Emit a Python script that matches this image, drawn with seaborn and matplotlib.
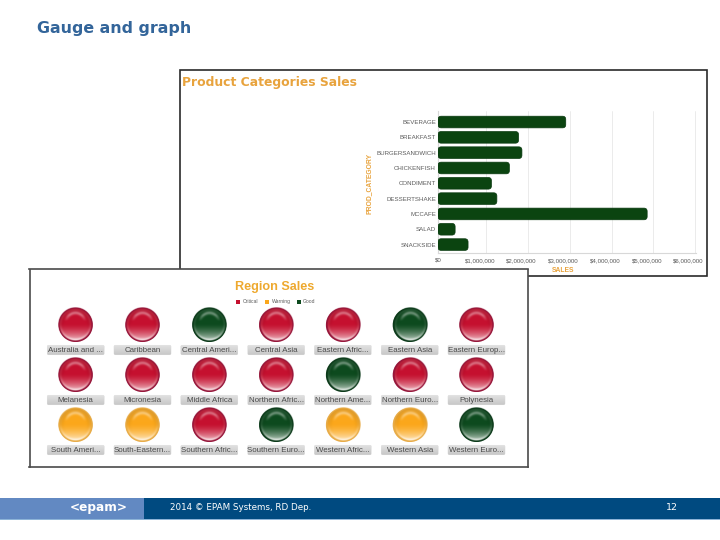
import numpy as np
import pandas as pd
import matplotlib
matplotlib.use("Agg")
import matplotlib.pyplot as plt
from matplotlib.patches import Rectangle, FancyBboxPatch
import seaborn as sns

categories = ["BEVERAGE", "BREAKFAST", "BURGERSANDWICH", "CHICKENFISH", "CONDIMENT",
              "DESSERTSHAKE", "MCCAFE", "SALAD", "SNACKSIDE"]
sales_m = [3.06, 1.93, 2.01, 1.71, 1.28, 1.41, 5.01, 0.41, 0.72]
sales_ticks = [0, 1, 2, 3, 4, 5, 6]
sales_labels = ["$0", "$1,000,000", "$2,000,000", "$3,000,000", "$4,000,000", "$5,000,000", "$6,000,000"]

regions = ["Australia and ...", "Caribbean", "Central Ameri...", "Central Asia", "Eastern Afric...", "Eastern Asia", "Eastern Europ...",
           "Melanesia", "Micronesia", "Middle Africa", "Northern Afric...", "Northern Ame...", "Northern Euro...", "Polynesia",
           "South Ameri...", "South-Eastern...", "Southern Afric...", "Southern Euro...", "Western Afric...", "Western Asia", "Western Euro..."]
status = ["Critical", "Critical", "Good", "Critical", "Critical", "Good", "Critical",
          "Critical", "Critical", "Critical", "Critical", "Good", "Critical", "Critical",
          "Warning", "Warning", "Critical", "Good", "Warning", "Warning", "Good"]
status_names = ["Critical", "Warning", "Good"]
status_colors = ["#c5102f", "#fba71b", "#0d4a1e"]
rim_colors = ["#96163a", "#e8ac48", "#0c3a1a"]

ORANGE = "#e8a33d"
TXT = "#5a5a5a"
W, H = 720, 540
fig = plt.figure(figsize=(7.2, 5.4), dpi=100, facecolor="white")

def px_axes(l, t, r, b, z):
    return fig.add_axes([l / W, 1 - b / H, (r - l) / W, (b - t) / H], zorder=z)

# slide overlay in pixel coordinates
bg = px_axes(0, 0, W, H, 0)
bg.set_xlim(0, W); bg.set_ylim(H, 0); bg.axis("off")
bg.add_patch(Rectangle((179.5, 69.5), 527.5, 206.5, fc="white", ec="#2a2a2a", lw=1.2))
bg.add_patch(Rectangle((0, 498), 144, 21, fc="#6289c2", ec="none"))
bg.add_patch(Rectangle((144, 498), 576, 21, fc="#004a80", ec="none"))
bg.add_patch(Rectangle((0, 519), 720, 0.8, fc="#8db4d8", ec="none"))
bg.text(37, 28, "Gauge and graph", color="#33659a", fontsize=11.4, fontweight="bold",
        family="DejaVu Sans", va="center", ha="left")
bg.text(182, 82.5, "Product Categories Sales", color=ORANGE, fontsize=8.95, fontweight="bold",
        family="DejaVu Sans", va="center", ha="left")
bg.text(369, 183, "PROD_CATEGORY", color=ORANGE, fontsize=4.9, rotation=90, fontweight="bold",
        family="Liberation Sans", va="center", ha="center")
bg.text(563, 271, "SALES", color=ORANGE, fontsize=4.9, fontweight="bold",
        family="Liberation Sans", va="center", ha="center")
bg.text(99, 507.5, "<epam>", color="white", fontsize=8.7, fontweight="bold",
        family="DejaVu Sans", va="center", ha="center")
bg.text(170, 508, "2014 © EPAM Systems, RD Dep.", color="white", fontsize=6.3,
        family="DejaVu Sans", va="center", ha="left")
bg.text(672, 507, "12", color="white", fontsize=6.8, family="DejaVu Sans", va="center", ha="center")

# bar chart
sns.set_style("white")
ax = px_axes(438, 111, 696, 253, 1)
df = pd.DataFrame({"cat": categories, "sales": sales_m})
sns.barplot(data=df, x="sales", y="cat", order=categories, orient="h", color="#0c4612",
            saturation=1, width=0.76, ax=ax, zorder=3)
ax.set_xlim(0, 6.18); ax.set_ylim(8.55, -0.72)
px_x = 258 / 6.18; px_y = 142 / 9.27
for p in list(ax.patches):
    x, y, w, h = p.get_x(), p.get_y(), p.get_width(), p.get_height()
    p.remove()
    ax.add_patch(FancyBboxPatch((x, y), w, h,
                 boxstyle=f"round,pad=0,rounding_size={3.2 / px_x}",
                 mutation_aspect=px_x / px_y, fc="#0b4410", ec="#0a3a10", lw=0.5, zorder=3))
ax.set_xticks(sales_ticks, sales_labels)
ax.set_yticks(range(len(categories)), categories)
ax.tick_params(axis="both", length=0, labelsize=4.4, labelcolor=TXT, pad=1.5)
ax.tick_params(axis="x", pad=3.5)
for lab in ax.get_xticklabels() + ax.get_yticklabels():
    lab.set_family("Liberation Sans")
for t in sales_ticks[1:]:
    ax.axvline(t + 0.16, color="#e8e8e8", lw=0.6, zorder=1)
ax.set_xlabel(""); ax.set_ylabel("")
for s in ("top", "right"):
    ax.spines[s].set_visible(False)
for s in ("left", "bottom"):
    ax.spines[s].set_color("#d8d8d8"); ax.spines[s].set_linewidth(0.8)
ax.patch.set_alpha(0)

# gauge panel: column / row data space
L, T, R, B = 29.5, 269.5, 528, 467
gx = px_axes(L, T, R, B, 2)
col_px, row_px, x0, y0 = 66.8, 50.0, 75.7, 325.0
gx.set_xlim((L - x0) / col_px, (R - x0) / col_px)
gx.set_ylim((B - y0) / row_px, (T - y0) / row_px)
gx.set_xticks([]); gx.set_yticks([])
for s in gx.spines.values():
    s.set_color("#4a4a4a"); s.set_linewidth(1.2)

n_cols = 7
g = pd.DataFrame({"region": regions, "status": status})
g["col"] = [i % n_cols for i in range(len(regions))]
g["row"] = [i // n_cols for i in range(len(regions))]
xlim, ylim = gx.get_xlim(), gx.get_ylim()
sns.scatterplot(data=g, x="col", y="row", hue="status", hue_order=status_names,
                palette=dict(zip(status_names, rim_colors)), s=600, linewidth=0,
                legend=False, ax=gx, zorder=2)
gx.set_xlabel(""); gx.set_ylabel("")

def ball(color, rim):
    n = 140
    v, u = np.mgrid[1:-1:n * 1j, -1:1:n * 1j]
    r = np.hypot(u, v)
    base = np.array(matplotlib.colors.to_rgb(color))
    rimc = np.array(matplotlib.colors.to_rgb(rim))
    img = np.zeros((n, n, 4))
    # soft glow in the lower half
    lower = np.clip((-v + 0.05) / 0.95, 0, 1) ** 1.5 * 0.7
    # faint pale ring just inside the rim
    ring = np.exp(-((r - 0.86) / 0.07) ** 2) * (0.08 + 0.14 * np.clip(-v, 0, 1))
    # thin crescent across the top
    d = np.hypot(u / 0.9, v - 0.05)
    arc = np.exp(-((d - 0.62) / 0.1) ** 2) * np.clip((v - 0.2) / 0.35, 0, 1) * 0.38
    dark = np.clip((r - 0.6) / 0.35, 0, 1) * np.clip(v + 0.5, 0, 1) * 0.15
    w = np.clip(lower + ring + arc, 0, 0.9)[..., None]
    c = base * (1 - dark[..., None]) * (1 - w) + w
    edge = np.clip((r - 0.9) / 0.03, 0, 1)[..., None]
    img[..., :3] = c * (1 - edge) + rimc * edge
    img[..., 3] = np.clip((1 - r) / 0.03, 0, 1)
    return img

grad = np.linspace(0.88, 0.78, 32)[:, None]
rx, ry = 17.2 / col_px, 17.2 / row_px
for _, rec in g.iterrows():
    k = status_names.index(rec["status"])
    gx.imshow(ball(status_colors[k], rim_colors[k]), aspect="auto", interpolation="bilinear",
              extent=(rec["col"] - rx, rec["col"] + rx, rec["row"] + ry, rec["row"] - ry), zorder=3)
    bw, bh = 57 / col_px, 9.6 / row_px
    yy = rec["row"] + 25 / row_px
    box = FancyBboxPatch((rec["col"] - bw / 2, yy - bh / 2), bw, bh,
                         boxstyle=f"round,pad=0,rounding_size={1.5 / col_px}",
                         mutation_aspect=col_px / row_px, fc="none", ec="#cfcfcf", lw=0.3, zorder=3)
    gx.add_patch(box)
    im = gx.imshow(grad, cmap="gray", vmin=0, vmax=1, aspect="auto", interpolation="bilinear",
                   extent=(rec["col"] - bw / 2, rec["col"] + bw / 2, yy + bh / 2, yy - bh / 2), zorder=3)
    im.set_clip_path(box)
    gx.text(rec["col"], yy, rec["region"], fontsize=5.7, color="#4a4a4a", family="Liberation Sans",
            ha="center", va="center", zorder=4, clip_on=True)
gx.set_xlim(xlim); gx.set_ylim(ylim)

# panel title and legend, pixel coordinates mapped onto the panel
tr = gx.transAxes
def P(px, py):
    return (px - L) / (R - L), 1 - (py - T) / (B - T)
gx.text(*P(274.5, 287), "Region Sales", transform=tr, color="#eea92f", fontsize=9.1, fontweight="bold",
        family="Liberation Sans", ha="center", va="center")
leg_sq = [236, 265, 296.5]
leg_tx = [243, 272, 303]
for name, c, sx, tx in zip(status_names, status_colors, leg_sq, leg_tx):
    gx.add_patch(Rectangle(P(sx, 304), 4.4 / (R - L), 4.4 / (B - T), transform=tr, fc=c, ec="none", zorder=4))
    gx.text(*P(tx, 301.8), name, transform=tr, fontsize=3.6, color=TXT, family="Liberation Sans",
            ha="left", va="center")

fig.savefig("out.png", dpi=100)
